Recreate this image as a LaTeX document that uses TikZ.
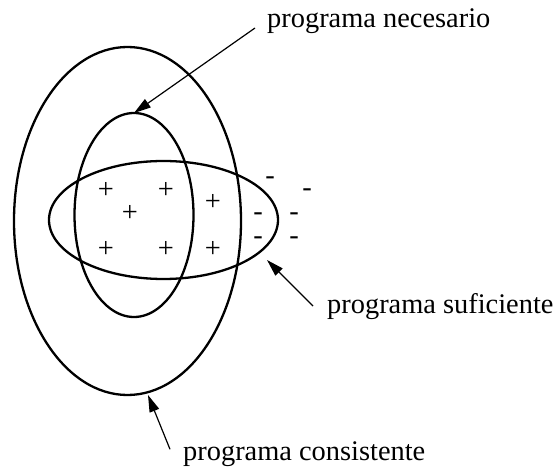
\documentclass[tikz,border=0pt]{standalone}
\usepackage{fontspec}
\setmainfont{Liberation Serif}
\usetikzlibrary{shapes.geometric,arrows.meta}
\begin{document}
\begin{tikzpicture}[x=1bp,y=-1bp,
  ell/.style={draw,ellipse,line width=2.3bp,inner sep=0,outer sep=0},
  lbl/.style={anchor=base west,inner ysep=0,font=\fontsize{28.4bp}{34bp}\selectfont},
  sgn/.style={inner sep=0,font=\fontsize{28.4bp}{34bp}\selectfont},
  sgnpair/.style={inner sep=0,align=center,font=\fontsize{28.4bp}{24bp}\selectfont},
  arr/.style={line width=1.2bp,-{Triangle[length=17bp,width=10bp]}}]
\useasboundingbox (0,0) rectangle (558,468);
% ellipses
\node[ell,minimum width=227bp,minimum height=348bp] (outer) at (127.5,221) {};
\node[ell,minimum width=119bp,minimum height=204bp] (mid) at (134,215) {};
\node[ell,minimum width=229bp,minimum height=118bp] (horiz) at (163.5,220) {};
% plus signs
\node[sgn] (p1) at (106,190) {+};
\node[sgn] (p2) at (166,190) {+};
\node[sgn] (p3) at (130,213) {+};
\node[sgn] (p4) at (213,202) {+};
\node[sgn] (p5) at (106,249) {+};
\node[sgn] (p6) at (166,249) {+};
\node[sgn] (p7) at (213,249) {+};
% minus signs
\node[sgn] (m1) at (270,180.7) {-};
\node[sgn] (m2) at (307,192.7) {-};
\node[sgnpair] (m35) at (258,228.7) {-\\-};
\node[sgnpair] (m46) at (294,228.7) {-\\-};
% labels
\node[lbl,inner xsep=12bp] (nec) at (255,28) {programa necesario};
\node[lbl,inner xsep=14bp] (suf) at (313,313) {programa suficiente};
\node[lbl,inner xsep=13bp] (con) at (170,460) {programa consistente};
% arrows
\coordinate (sufTip) at (267,260);
\coordinate (conTip) at (148,395);
\draw[arr] (nec.base west) -- (mid.north);
\draw[arr] (suf.west) -- (sufTip);
\draw[arr] ([yshift=4.4bp]con.west) -- (conTip);
\end{tikzpicture}
\end{document}
